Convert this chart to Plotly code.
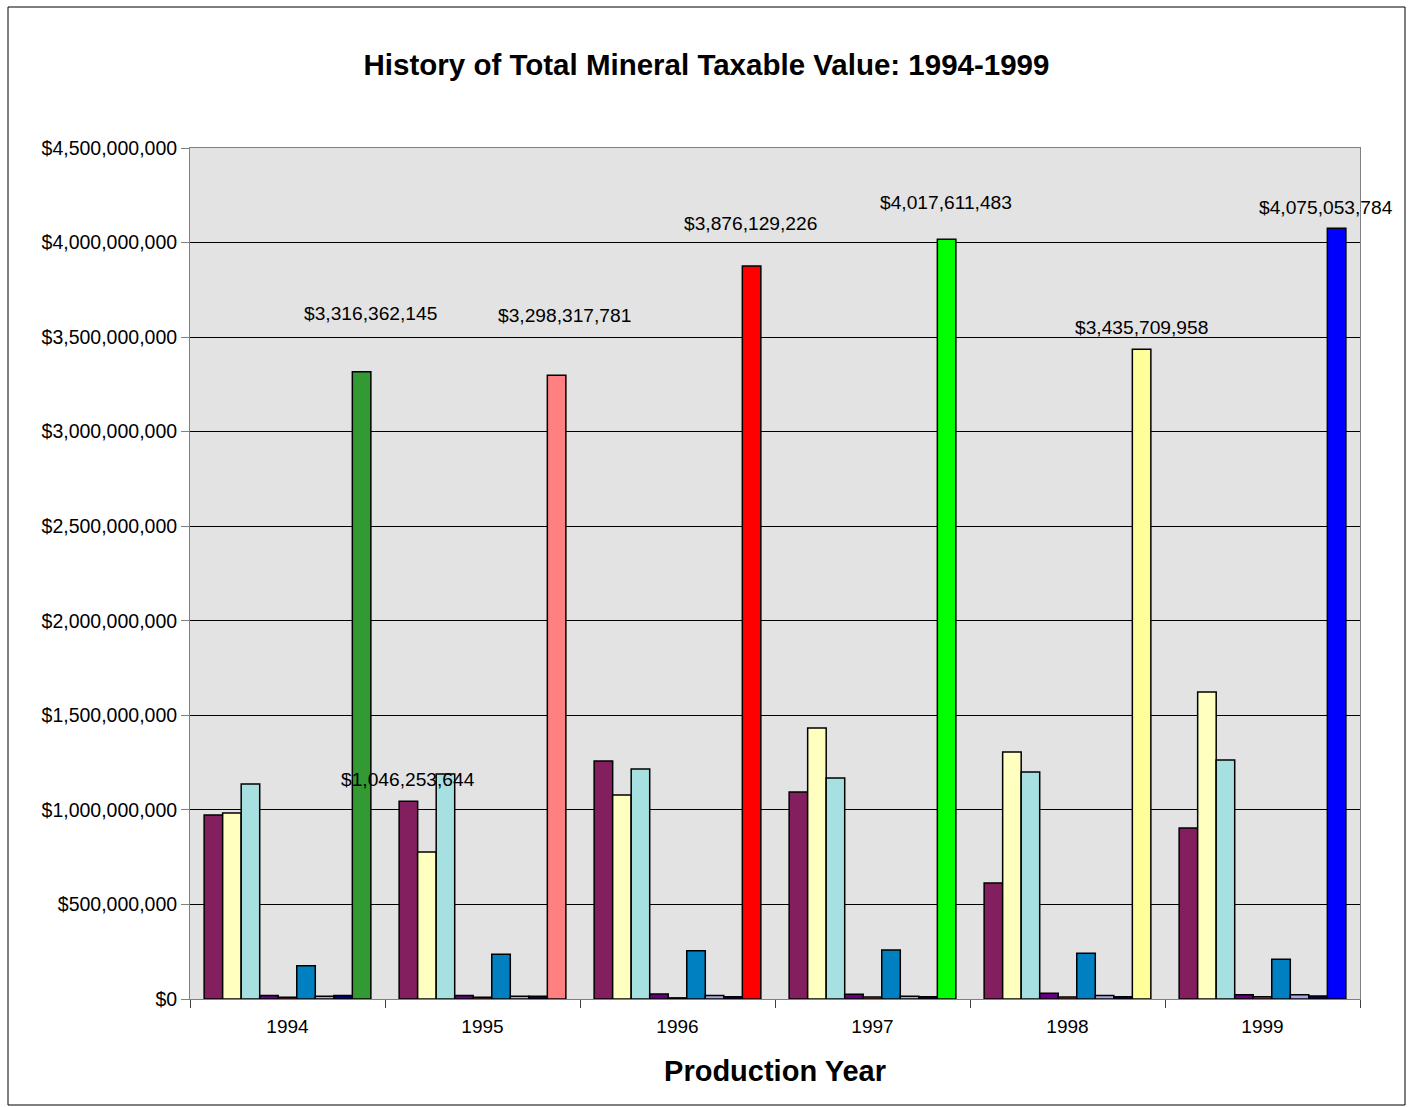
import plotly.graph_objects as go

years = ["1994", "1995", "1996", "1997", "1998", "1999"]
series_names = ["Series 1", "Series 2", "Series 3", "Series 4",
                "Series 5", "Series 6", "Series 7", "Series 8"]
s1 = [973e6, 1046253644, 1259e6, 1095e6, 613e6, 904e6]
s2 = [984e6, 777e6, 1079e6, 1433e6, 1306e6, 1623e6]
s3 = [1137e6, 1190e6, 1216e6, 1169e6, 1200e6, 1264e6]
s4 = [19e6, 19e6, 26e6, 25e6, 30e6, 23e6]
s5 = [9e6, 9e6, 6e6, 10e6, 10e6, 12e6]
s6 = [176e6, 236e6, 255e6, 259e6, 242e6, 210e6]
s7 = [14e6, 14e6, 18e6, 15e6, 19e6, 23e6]
s8 = [18e6, 14e6, 12e6, 12e6, 12e6, 16e6]
totals = [3316362145, 3298317781, 3876129226, 4017611483, 3435709958, 4075053784]

series_values = [s1, s2, s3, s4, s5, s6, s7, s8]
series_colors = ["#841F5F", "#FFFFC0", "#A6E0E0", "#660080",
                 "#C05050", "#0080C0", "#A8A8E8", "#000080"]
total_colors = ["#339933", "#FF8080", "#FF0000", "#00FF00", "#FFFF99", "#0000FF"]

FONT = "Arial, Liberation Sans, sans-serif"

fig = go.Figure()
for name, vals, col in zip(series_names, series_values, series_colors):
    fig.add_trace(go.Bar(x=years, y=vals, name=name, marker_color=col,
                         marker_line_color="black", marker_line_width=1.5))
fig.add_trace(go.Bar(x=years, y=totals, name="Total", marker_color=total_colors,
                     marker_line_color="black", marker_line_width=1.5))

# geometry for label placement
plot_w = 1413 - 190 - 53
cat_w = plot_w / len(years)
bargap = 0.145
bar_w = cat_w * (1 - bargap) / 9
total_off = 4 * bar_w
label_dx = [9, 8, -1, -1, 0, -11]
label_dy = [58, 60, 42, 37, 22, 21]

annotations = []
for i, (v, dx, dy) in enumerate(zip(totals, label_dx, label_dy)):
    annotations.append(dict(x=i, y=v, xref="x", yref="y", text=f"${v:,.0f}",
                            showarrow=False, xshift=total_off + dx, yshift=dy,
                            yanchor="middle", font=dict(family=FONT, size=19.2, color="black")))
annotations.append(dict(x=1, y=s1[1], xref="x", yref="y", text=f"${s1[1]:,.0f}",
                        showarrow=False, xshift=-total_off, yshift=22, yanchor="middle",
                        font=dict(family=FONT, size=19.2, color="black")))

fig.update_layout(
    width=1413, height=1107,
    margin=dict(l=190, r=53, t=148, b=108),
    paper_bgcolor="white", plot_bgcolor="#E3E3E3",
    barmode="group", bargap=bargap, bargroupgap=0,
    showlegend=False,
    title=dict(text="<b>History of Total Mineral Taxable Value: 1994-1999</b>",
               x=0.5, xref="container", xanchor="center",
               y=1 - 65 / 1107, yref="container", yanchor="middle",
               font=dict(family=FONT, size=29.5, color="black")),
    font=dict(family=FONT, size=19, color="black"),
    annotations=annotations,
    shapes=[dict(type="rect", xref="paper", yref="paper",
                 x0=(8 - 190) / plot_w, x1=(1405 - 190) / plot_w,
                 y0=(999 - 1105) / 851, y1=(999 - 7) / 851,
                 line=dict(color="black", width=1), fillcolor="rgba(0,0,0,0)", layer="below")],
)
fig.update_xaxes(type="category", range=[-0.5, len(years) - 0.5], autorange=False,
                 tickson="boundaries", ticks="outside", ticklen=8,
                 tickcolor="#404040", showline=True, linecolor="#808080", linewidth=1,
                 mirror=True, showgrid=False, tickangle=0, ticklabelstandoff=10,
                 tickfont=dict(family=FONT, size=19),
                 title=dict(text="<b>Production Year</b>", standoff=24,
                            font=dict(family=FONT, size=29)))
fig.update_yaxes(range=[0, 4.5e9], autorange=False, dtick=5e8, tickformat="$,.0f",
                 ticks="outside",
                 ticklen=8, tickcolor="#808080", showline=True, linecolor="#808080",
                 linewidth=1, mirror=True, showgrid=True, gridcolor="black", gridwidth=1,
                 zeroline=False, tickfont=dict(family=FONT, size=19.5))

fig.write_html("out.html", post_script="document.body.style.margin='0';",
               config={"displayModeBar": False})
